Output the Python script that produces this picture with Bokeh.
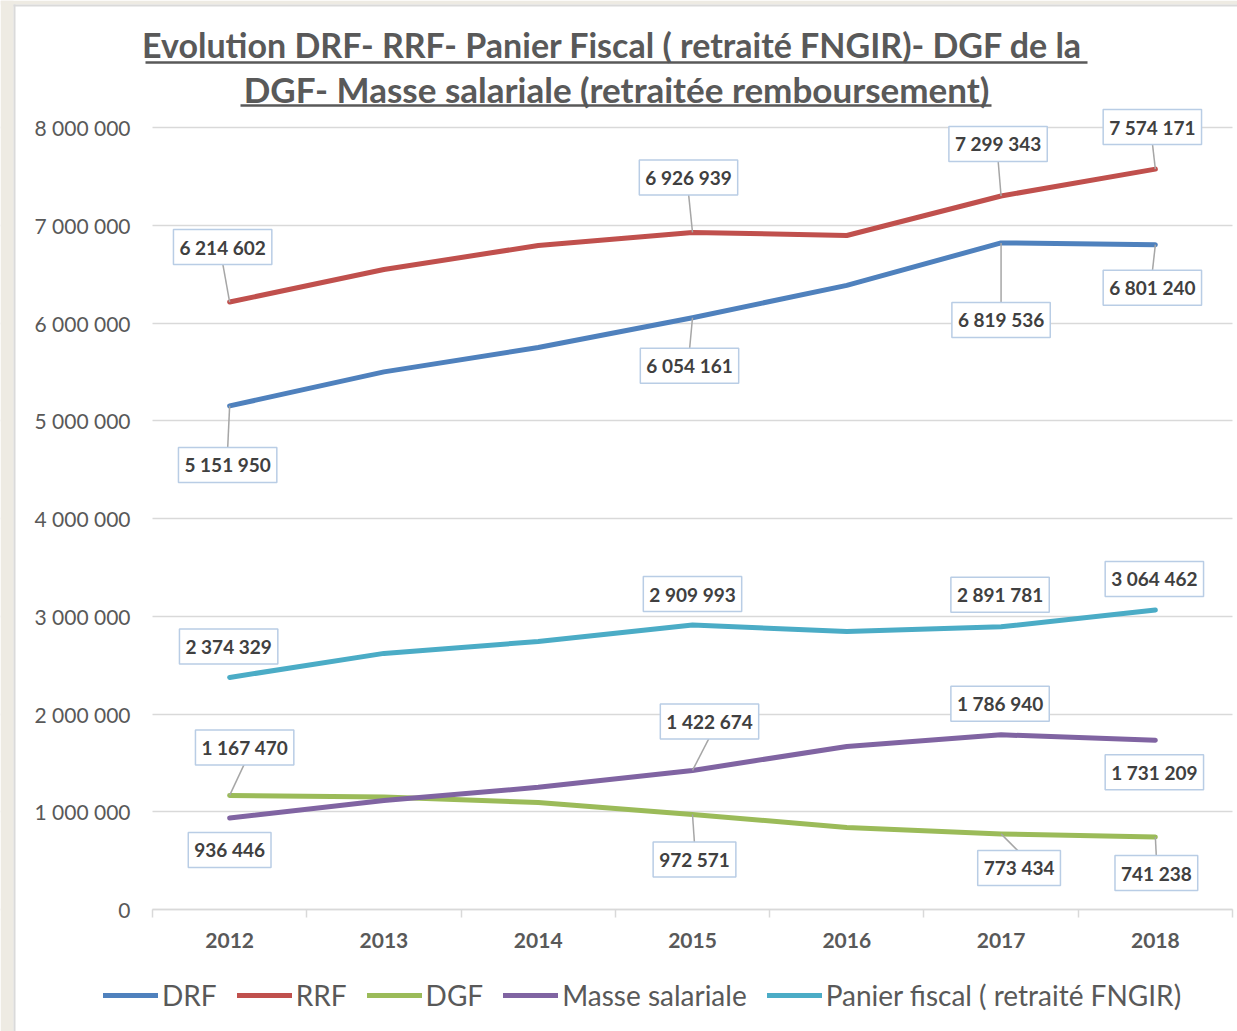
from bokeh.plotting import figure
from bokeh.models import (ColumnDataSource, Range1d, FixedTicker, Label, BoxAnnotation,
                          Legend, LegendItem)
from bokeh.core.properties import value
from bokeh.embed import file_html
from bokeh.resources import INLINE

# ---------------- data ----------------
years = ["2012", "2013", "2014", "2015", "2016", "2017", "2018"]
drf = [5151950, 5500000, 5750000, 6054161, 6385000, 6819536, 6801240]
rrf = [6214602, 6547000, 6793000, 6926939, 6895000, 7299343, 7574171]
dgf = [1167470, 1150000, 1095000, 972571, 840000, 773434, 741238]
masse = [936446, 1115000, 1250000, 1422674, 1668000, 1786940, 1731209]
panier = [2374329, 2620000, 2742000, 2909993, 2845000, 2891781, 3064462]
y_ticks = [0, 1000000, 2000000, 3000000, 4000000, 5000000, 6000000, 7000000, 8000000]
y_tick_labels = ["0", "1 000 000", "2 000 000", "3 000 000", "4 000 000",
                 "5 000 000", "6 000 000", "7 000 000", "8 000 000"]
title_lines = ["Evolution DRF- RRF- Panier Fiscal ( retraité FNGIR)- DGF  de la",
               "DGF- Masse salariale (retraitée remboursement)"]
series_names = ["DRF", "RRF", "DGF", "Masse salariale", "Panier fiscal ( retraité FNGIR)"]

# ---------------- style / layout ----------------
colors = ["#4F81BD", "#C0504D", "#9BBB59", "#8064A2", "#4BACC6"]
FONT = "Lato"
GREY = "#595959"
W, H = 1237, 1031
PLOT_L, PLOT_R, BASE_Y, TOP_Y = 152, 1232, 909, 127   # pixel placement of the plot area
n = len(years)
ymax_tick = y_ticks[-1]
ppx = (PLOT_R - PLOT_L) / n                 # px per category
ppy = (BASE_Y - TOP_Y) / ymax_tick          # px per unit value
x0 = -0.5 - PLOT_L / ppx
x1 = n - 0.5 + (W - PLOT_R) / ppx
y0 = -(H - BASE_Y) / ppy
y1 = BASE_Y / ppy

p = figure(width=W, height=H, output_backend="svg", toolbar_location=None,
           title_location=None, min_border=0,
           x_range=Range1d(x0, x1), y_range=Range1d(y0, y1))
p.outline_line_color = None
p.background_fill_color = "white"
p.border_fill_color = "white"

xs = list(range(n))

# grid
p.xgrid.grid_line_color = None
p.ygrid.ticker = FixedTicker(ticks=y_ticks, minor_ticks=[])
p.ygrid.grid_line_color = "#D9D9D9"
p.ygrid.grid_line_width = 1.5
# keep the gridlines within the plot area (white masks drawn just after the grid)
for l, r in [(0, PLOT_L), (PLOT_R, W)]:
    p.add_layout(BoxAnnotation(left=l, right=r, bottom=0, top=H, left_units="screen",
                               right_units="screen", bottom_units="screen", top_units="screen",
                               fill_color="white", fill_alpha=1, line_color=None,
                               level="underlay"))

# x axis (drawn at value 0)
p.xaxis.fixed_location = 0
p.xaxis.bounds = (-0.5, n - 0.5)
p.xaxis.ticker = FixedTicker(ticks=xs, minor_ticks=[i - 0.5 for i in range(n + 1)])
p.xaxis.major_label_overrides = {i: y for i, y in enumerate(years)}
p.xaxis.major_tick_line_color = None
p.xaxis.minor_tick_line_color = "#D9D9D9"
p.xaxis.minor_tick_line_width = 1.5
p.xaxis.minor_tick_out = 8
p.xaxis.minor_tick_in = 0
p.xaxis.axis_line_color = "#D9D9D9"
p.xaxis.axis_line_width = 1.5
p.xaxis.major_label_text_font = FONT
p.xaxis.major_label_text_font_style = "bold"
p.xaxis.major_label_text_font_size = "21px"
p.xaxis.major_label_text_color = GREY
p.xaxis.major_label_standoff = 15

# y axis (drawn at the left edge of the categories)
p.yaxis.fixed_location = -0.5
p.yaxis.ticker = FixedTicker(ticks=y_ticks, minor_ticks=[])
p.yaxis.major_label_overrides = {t: l for t, l in zip(y_ticks, y_tick_labels)}
p.yaxis.axis_line_color = None
p.yaxis.major_tick_line_color = None
p.yaxis.minor_tick_line_color = None
p.yaxis.major_label_text_font = FONT
p.yaxis.major_label_text_font_size = "21px"
p.yaxis.major_label_text_color = GREY
p.yaxis.major_label_standoff = 16

# lines
series = [drf, rrf, dgf, masse, panier]
renderers = []
for vals, col in zip(series, colors):
    r = p.line(xs, vals, line_color=col, line_width=5, line_cap="round", line_join="round")
    renderers.append(r)

# data labels: (series index, year index, dx px, dy px (down +), leader)
label_specs = [
    (1, 0, -7, -55, True), (1, 3, -4, -55, True), (1, 5, -3, -52, True), (1, 6, -3, -42, True),
    (0, 0, -2, 59, True), (0, 3, -3, 48, True), (0, 5, 0, 77, True), (0, 6, -3, 43, True),
    (4, 0, -1, -31, False), (4, 3, 0, -31, False), (4, 5, -1, -32, False), (4, 6, -1, -31, False),
    (2, 0, 15, -48, True), (2, 3, 2, 45, True), (2, 5, 18, 34, True), (2, 6, 1, 36, True),
    (3, 0, 0, 32, False), (3, 3, 17, -49, True), (3, 5, -1, -31, False), (3, 6, -1, 32, False),
]

def fmt(v):
    return f"{v:,}".replace(",", " ")

BOX_HALF_H = 16
lx, ly, ltext, ldx, ldy = [], [], [], [], []
sx0, sy0, sx1, sy1 = [], [], [], []
for si, yi, dx, dy, lead in label_specs:
    v = series[si][yi]
    lx.append(xs[yi]); ly.append(v); ltext.append(fmt(v)); ldx.append(dx); ldy.append(dy)
    if lead:
        edge = dy - BOX_HALF_H if dy > 0 else dy + BOX_HALF_H
        sx0.append(xs[yi]); sy0.append(v)
        sx1.append(xs[yi] + dx / ppx); sy1.append(v - edge / ppy)

p.segment(x0=sx0, y0=sy0, x1=sx1, y1=sy1, line_color="#A6A6A6", line_width=1.5)

src = ColumnDataSource(dict(x=lx, y=ly, text=ltext, dx=ldx, dy=ldy))
p.text(x="x", y="y", text="text", x_offset="dx", y_offset="dy", source=src,
       text_align="center", text_baseline="middle", text_font=value(FONT),
       text_font_style="bold", text_font_size="19px", text_color="#404040",
       background_fill_color="white", border_line_color="#B9CDE5", border_line_width=1.5,
       padding=6)

# title (two underlined lines); screen units from the bottom-left corner
cx = 616
for txt, cy, u0, u1, uy, fs in [(title_lines[0], H - 44, 145, 1087, H - 62, "34px"),
                                 (title_lines[1], H - 88, 240, 991, H - 105, "35px")]:
    p.add_layout(Label(x=cx, y=cy, x_units="screen", y_units="screen", text=txt,
                       text_align="center", text_baseline="middle", text_font=FONT,
                       text_font_style="bold", text_font_size=fs, text_color=GREY))
    p.add_layout(BoxAnnotation(left=u0, right=u1, bottom=uy - 1.2, top=uy + 1.2,
                               left_units="screen", right_units="screen",
                               bottom_units="screen", top_units="screen",
                               fill_color=GREY, fill_alpha=1, line_color=None))

legend = Legend(items=[LegendItem(label=s, renderers=[r]) for s, r in zip(series_names, renderers)],
                orientation="horizontal", location=(103, H - 1012),
                glyph_width=55, glyph_height=20, label_standoff=4, spacing=20,
                padding=0, margin=0, border_line_color=None, background_fill_alpha=0,
                label_text_font=FONT, label_text_font_size="28px", label_text_color=GREY)
p.add_layout(legend, "center")

# outer frame of the sheet (beige surround with a light grey edge)
for l, r, b, t, c in [(0, 13, 0, H, "#EEEBE3"), (0, W, H - 4, H, "#EEEBE3"),
                      (13, 15, 0, H - 4, "#DADADA"), (13, W, H - 6, H - 4, "#DADADA")]:
    p.add_layout(BoxAnnotation(left=l, right=r, bottom=b, top=t, left_units="screen",
                               right_units="screen", bottom_units="screen", top_units="screen",
                               fill_color=c, fill_alpha=1, line_color=None, level="overlay"))

open("out.html", "w").write(file_html(p, INLINE))
